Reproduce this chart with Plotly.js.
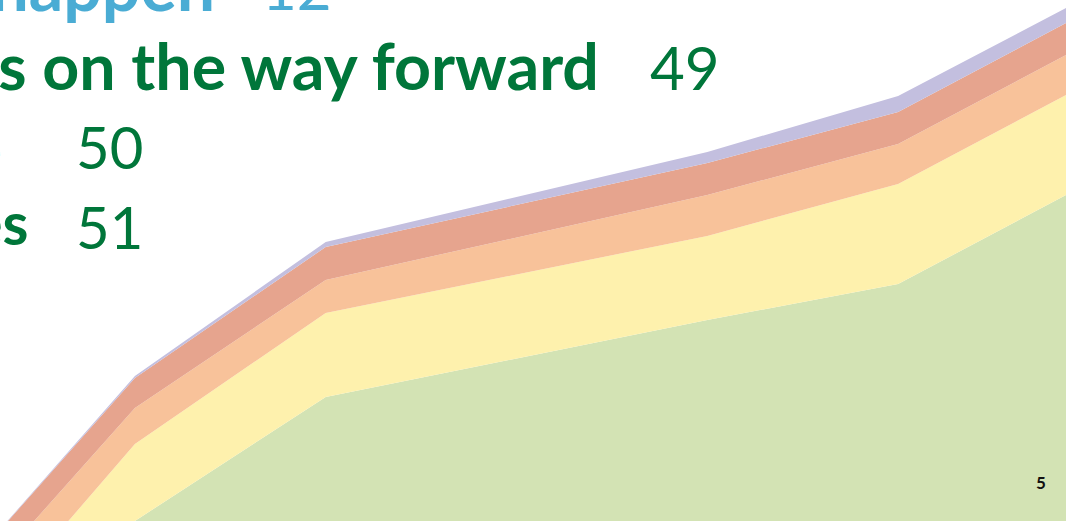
<!DOCTYPE html>
<html>
<head>
<meta charset="utf-8">
<script src="https://cdn.plot.ly/plotly-3.0.1.min.js"></script>
<style>
  html, body { margin: 0; padding: 0; background: #ffffff; overflow: hidden; }
  #chart { width: 1066px; height: 521px; }
</style>
</head>
<body>
<div id="chart"></div>
<script>
// ---- data ----
const periods = [-1, 0, 1, 3, 4, 5];
const green    = [20, 179, 303, 380, 416, 517];
const yellow   = [15, 77, 84, 84, 100, 100];
const orange   = [43, 36, 33, 41, 40, 40];
const salmon   = [29, 30, 33, 32, 32, 32];
const lavender = [0, 2, 5, 11, 16, 15];

const tocTitles  = ["Making it happen", "Reflections on the way forward", "Background note", "Annexes"];
const tocPages   = ["12", "49", "50", "51"];
const pageNumber = "5";

// ---- styling ----
const layerColors = ["#d3e3b4", "#fef1ad", "#f8c29a", "#e6a48e", "#c3bfdf"];
const layers = [green, yellow, orange, salmon, lavender];
const names = ["Layer 1", "Layer 2", "Layer 3", "Layer 4", "Layer 5"];

const traces = layers.map((vals, i) => ({
  type: "scatter",
  mode: "lines",
  x: periods,
  y: vals,
  name: names[i],
  stackgroup: "one",
  line: { width: 0, color: layerColors[i] },
  fillcolor: layerColors[i],
  hoverinfo: "skip"
}));

const W = 1066, H = 521;
const px = v => v / W;
const py = v => 1 - v / H;

const blue = "#4aacd4";
const dgreen = "#00763a";

function ann(text, x, y, size, color, bold, xanchor) {
  return {
    xref: "paper", yref: "paper",
    x: px(x), y: py(y),
    xanchor: xanchor, yanchor: "middle",
    text: bold ? "<b>" + text + "</b>" : text,
    showarrow: false,
    font: { family: "Lato, 'Open Sans', sans-serif", size: size, color: color },
    borderpad: 0, borderwidth: 0
  };
}

const annotations = [
  ann(tocTitles[0], 215, -16, 68, blue, true, "right"),
  ann(tocPages[0], 332, -13, 60, blue, false, "right"),
  ann(tocTitles[1], 599, 65, 64.5, dgreen, true, "right"),
  ann(tocPages[1], 650, 67, 60, dgreen, false, "left"),
  ann(tocTitles[2], 1, 150, 48, dgreen, true, "right"),
  ann(tocPages[2], 76, 146, 58, dgreen, false, "left"),
  ann(tocTitles[3], 28, 222, 59, dgreen, true, "right"),
  ann(tocPages[3], 76, 226, 58, dgreen, false, "left"),
  ann(pageNumber, 1046, 482, 17, "#111111", true, "right")
];

const layout = {
  width: W, height: H,
  margin: { l: 0, r: 0, t: 0, b: 0, pad: 0 },
  paper_bgcolor: "#ffffff",
  plot_bgcolor: "#ffffff",
  showlegend: false,
  xaxis: { range: [-0.707, 4.880], visible: false, fixedrange: true },
  yaxis: { range: [179, 700], visible: false, fixedrange: true },
  annotations: annotations,
  font: { family: "Lato, 'Open Sans', sans-serif" }
};

Plotly.newPlot("chart", traces, layout, { displayModeBar: false, staticPlot: true });
</script>
</body>
</html>
